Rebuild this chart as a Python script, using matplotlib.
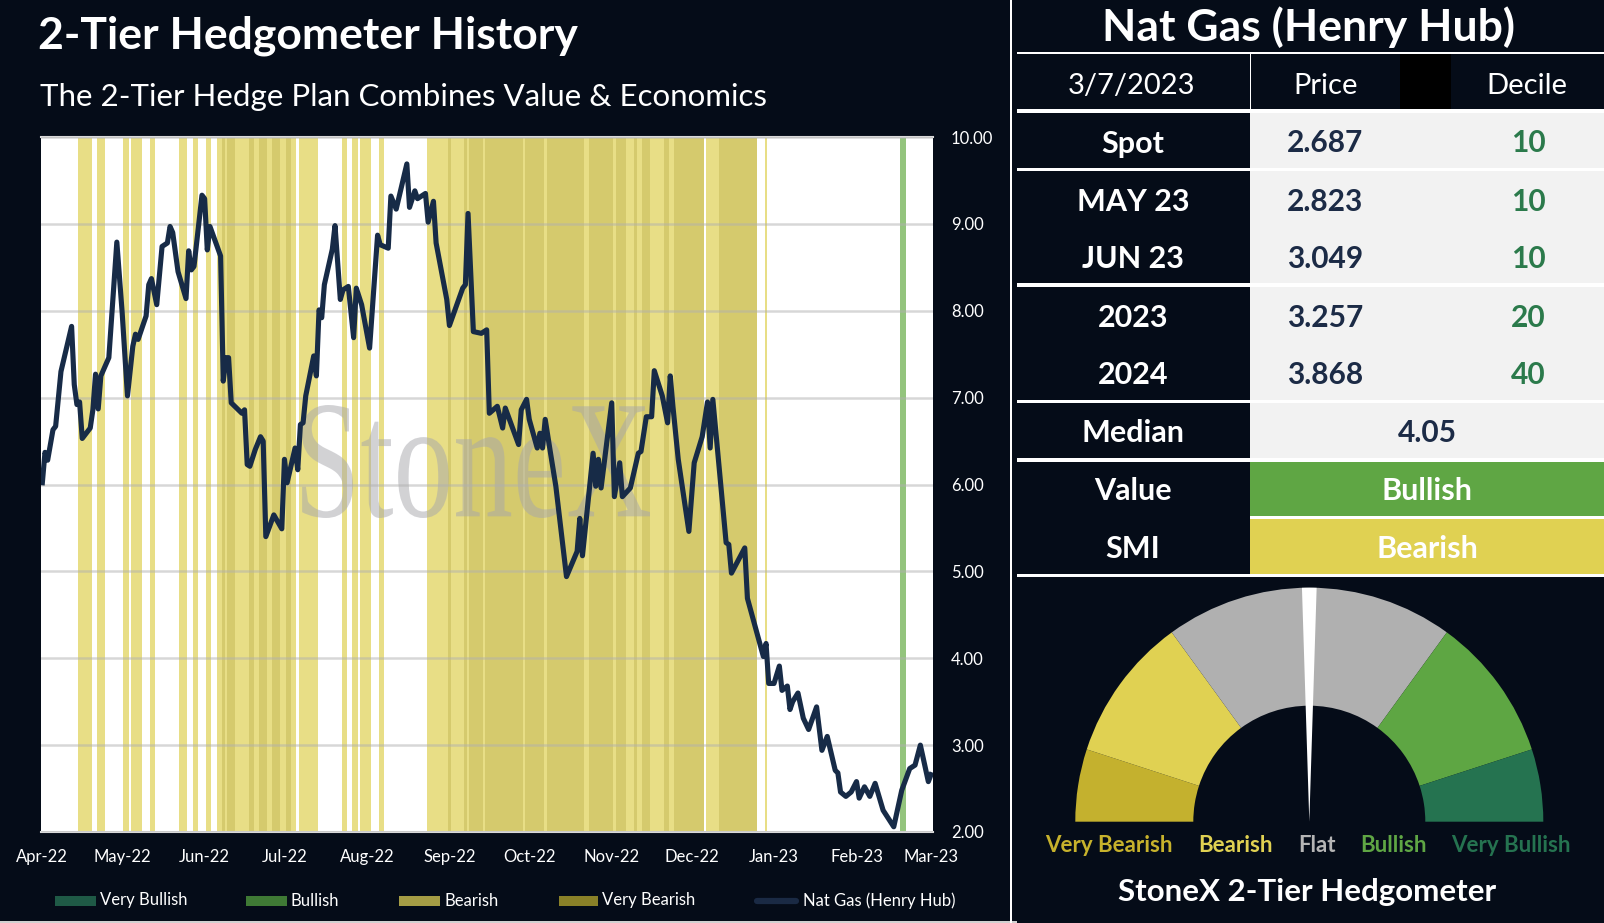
import pandas as pd
import matplotlib
matplotlib.use('Agg')
import matplotlib.pyplot as plt
import matplotlib.dates as mdates
from matplotlib.patches import Rectangle, Wedge, PathPatch
from matplotlib.textpath import TextPath
from matplotlib.font_manager import FontProperties
from matplotlib.transforms import Affine2D

plt.rcParams['font.family'] = ['Lato', 'DejaVu Sans']

W, H = 1604, 923
BG = '#050c18'
start = pd.Timestamp('2022-04-01')

# Henry Hub price, x = days after 1 Apr 2022
day = [0, 1, 2, 4, 5, 7, 11, 12, 13, 14, 15, 18, 19, 20, 21, 22, 25, 28, 30, 32,
       34, 35, 36, 39, 40, 41, 43, 45, 47, 48, 49, 51, 54, 55, 56, 57, 60, 61, 62, 63,
       67, 68, 69, 70, 71, 75, 76, 77, 78, 80, 82, 83, 84, 87, 90, 91, 92, 95, 96, 97,
       98, 99, 102, 103, 104, 105, 106, 109, 110, 112, 113, 115, 117, 118, 120, 123, 126, 127, 130, 131,
       133, 137, 138, 140, 141, 144, 145, 147, 148, 152, 153, 158, 159, 160, 162, 165, 167, 168, 171, 173,
       174, 179, 180, 182, 183, 186, 187, 188, 189, 191, 193, 197, 201, 202, 203, 207, 208, 209, 210, 214,
       215, 217, 218, 221, 224, 225, 227, 229, 230, 233, 235, 236, 237, 239, 243, 245, 248, 250, 251, 252,
       257, 258, 259, 264, 265, 271, 272, 273, 275, 277, 278, 280, 281, 282, 284, 286, 288, 291, 293, 295,
       298, 299, 300, 302, 304, 306, 307, 309, 311, 313, 316, 320, 323, 326, 328, 330, 333, 334]
price = [6.02, 6.37, 6.28, 6.63, 6.67, 7.30, 7.82, 7.15, 6.92, 6.95, 6.53, 6.65, 6.86, 7.27, 6.87, 7.25, 7.46, 8.79, 7.98, 7.02,
         7.59, 7.73, 7.67, 7.94, 8.30, 8.37, 8.07, 8.74, 8.78, 8.97, 8.90, 8.45, 8.14, 8.69, 8.47, 8.51, 9.33, 9.29, 8.70, 8.97,
         8.63, 7.19, 7.46, 7.46, 6.94, 6.82, 6.86, 6.23, 6.21, 6.40, 6.55, 6.50, 5.40, 5.65, 5.49, 6.29, 6.02, 6.42, 6.17, 6.69,
         6.71, 7.02, 7.48, 7.25, 8.01, 7.92, 8.30, 8.71, 8.98, 8.13, 8.24, 8.28, 7.69, 8.26, 8.07, 7.57, 8.87, 8.76, 8.72, 9.32,
         9.17, 9.69, 9.19, 9.38, 9.29, 9.35, 9.02, 9.26, 8.78, 8.13, 7.83, 8.26, 8.30, 9.12, 7.76, 7.74, 7.78, 6.82, 6.90, 6.65,
         6.88, 6.46, 6.86, 6.98, 6.75, 6.42, 6.59, 6.42, 6.75, 6.36, 5.98, 4.94, 5.23, 5.61, 5.18, 6.36, 5.98, 6.29, 5.96, 6.94,
         5.86, 6.25, 5.86, 5.96, 6.36, 6.38, 6.78, 6.78, 7.31, 7.02, 6.71, 7.25, 6.90, 6.29, 5.46, 6.25, 6.55, 6.95, 6.42, 6.98,
         5.33, 5.31, 4.98, 5.27, 4.69, 4.02, 4.17, 3.71, 3.71, 3.91, 3.63, 3.68, 3.41, 3.50, 3.60, 3.31, 3.18, 3.44, 2.94, 3.10,
         2.71, 2.68, 2.46, 2.41, 2.46, 2.58, 2.39, 2.52, 2.41, 2.56, 2.25, 2.06, 2.48, 2.73, 2.77, 3.00, 2.58, 2.66]

# hedgometer signal days (first / last day of each run)
bearish_from = [14, 21, 31, 34, 41, 52, 57, 62, 66, 97, 113, 117, 120, 127, 145, 250, 272]
bearish_to = [18, 23, 32, 37, 42, 54, 58, 63, 95, 103, 114, 118, 123, 128, 248, 268, 272]
very_bearish_from = [68, 70, 78, 82, 87, 92, 153, 159, 161, 167, 182, 190, 206, 216, 223, 226, 234, 238, 255]
very_bearish_to = [68, 72, 79, 84, 89, 93, 153, 159, 165, 180, 188, 203, 214, 219, 223, 228, 235, 248, 268]
bullish_from = [323]
bullish_to = [324]

month_ticks = pd.date_range('2022-04-01', '2023-03-01', freq='MS')
y_ticks = [2, 3, 4, 5, 6, 7, 8, 9, 10]

legend_labels = ['Very Bullish', 'Bullish', 'Bearish', 'Very Bearish', 'Nat Gas (Henry Hub)']
legend_colors = ['#1f5a46', '#3f7a35', '#a59d45', '#8a8128', '#1a2a44']

table_date = '3/7/2023'
contracts = ['Spot', 'MAY 23', 'JUN 23', '2023', '2024']
contract_price = ['2.687', '2.823', '3.049', '3.257', '3.868']
contract_decile = ['10', '10', '10', '20', '40']
median_price = '4.05'
value_signal = 'Bullish'
smi_signal = 'Bearish'

gauge_labels = ['Very Bearish', 'Bearish', 'Flat', 'Bullish', 'Very Bullish']
gauge_degrees = [18, 36, 72, 36, 18]
gauge_colors = ['#c4b12e', '#e0d152', '#b0b0b0', '#5ea643', '#257350']
needle_angle = 90

fig = plt.figure(figsize=(W / 100, H / 100), dpi=100, facecolor=BG)

# full-figure axes in pixel units (y down) for the table, gauge and texts
pan = fig.add_axes([0, 0, 1, 1])
pan.set_xlim(0, W)
pan.set_ylim(H, 0)
pan.axis('off')


def cell(x0, x1, y0, y1, color):
    pan.add_patch(Rectangle((x0, y0), x1 - x0, y1 - y0, fc=color, ec='none'))


# ---------------- left chart ----------------
ax = fig.add_axes([41 / W, 1 - 832 / H, (933 - 41) / W, (832 - 137) / H])
ax.set_facecolor('white')
half = pd.Timedelta(hours=12)


def spans(first, last, color, z):
    for a, b in zip(first, last):
        ax.axvspan(start + pd.Timedelta(days=a) - half, start + pd.Timedelta(days=b) + half,
                   color=color, lw=0, zorder=z)


spans(bearish_from, bearish_to, '#e8de86', 1)
spans(very_bearish_from, very_bearish_to, '#d5ca6d', 1.1)
spans(bullish_from, bullish_to, '#93c47d', 1)

# StoneX watermark
tp = TextPath((0, 0), 'StoneX', size=100, prop=FontProperties(family='Liberation Serif'))
bb = tp.get_extents()
tr = (Affine2D().translate(-bb.x0, -bb.y0)
      .scale((348 / 892) / bb.width, (113 / 695) / bb.height)
      .translate((302 - 41) / 892, (832 - 518) / 695) + ax.transAxes)
ax.add_patch(PathPatch(tp, transform=tr, fc='#a6a6ab', ec='none', alpha=0.5, zorder=2))

dates = start + pd.to_timedelta(day, unit='D')
ax.plot(dates, price, color='#172b47', lw=3.7, solid_joinstyle='round', zorder=4)

ax.set_xlim(start - half, start + pd.Timedelta(days=334.75))
ax.set_ylim(2, 10)
ax.set_axisbelow(False)
ax.yaxis.grid(True, color='#b0b0b0', alpha=0.5, lw=1.8)
for s in ['left', 'right']:
    ax.spines[s].set_visible(False)
for s in ['top', 'bottom']:
    ax.spines[s].set_color('#d9d9d9')
    ax.spines[s].set_linewidth(1.5)

ax.yaxis.tick_right()
ax.set_yticks(y_ticks)
ax.set_yticklabels([f'{v:.2f}' for v in y_ticks])
ax.set_xticks(month_ticks)
ax.xaxis.set_major_formatter(mdates.DateFormatter('%b-%y'))
ax.tick_params(axis='y', length=0, pad=13, labelcolor='white', labelsize=12)
ax.tick_params(axis='x', length=0, pad=12, labelcolor='white', labelsize=12)

pan.text(38, 48, '2-Tier Hedgometer History', color='white', fontsize=32, weight='bold', va='baseline')
pan.text(40, 106, 'The 2-Tier Hedge Plan Combines Value & Economics', color='white', fontsize=22.5, va='baseline')

# legend row under the chart
legend_x = [(55, 96), (246, 287), (399, 440), (559, 598), (754, 799)]
for (x0, x1), lab, col in zip(legend_x, legend_labels, legend_colors):
    if lab == 'Nat Gas (Henry Hub)':
        pan.plot([x0 + 3, x1 - 3], [900.5, 900.5], color=col, lw=4.5, solid_capstyle='round')
    else:
        cell(x0, x1, 895.5, 905.5, col)
    pan.text(x1 + 4, 900.5, lab, color='white', fontsize=12, va='center')

cell(0, W, 921, H, '#d0d0d0')

# ---------------- right panel ----------------
cell(1009.5, 1012, 0, H, 'white')
cell(1017, W, 0, H, 'white')
cell(1017, W, 0, 51.7, BG)
pan.text(1308.5, 27, 'Nat Gas (Henry Hub)', color='white', fontsize=32, weight='bold',
         ha='center', va='center')

cell(1017, 1249.5, 54, 109.3, BG)
cell(1251, W, 54, 109.3, BG)
cell(1400, 1451, 54, 109.3, '#000000')
hdr_y = 84
pan.text(1132, hdr_y, table_date, color='white', fontsize=21, ha='center', va='center_baseline')
pan.text(1325.5, hdr_y, 'Price', color='white', fontsize=21, ha='center', va='center_baseline')
pan.text(1527, hdr_y, 'Decile', color='white', fontsize=21, ha='center', va='center_baseline')

LIGHT = '#f2f2f2'
groups = [(112.7, 167.7), (170.7, 283.3), (286.7, 400), (403.3, 458.3)]
for y0, y1 in groups:
    cell(1017, 1250, y0, y1, BG)
    cell(1250, W, y0, y1, LIGHT)

row_y = [141, 199.5, 257, 315.5, 373]
for y, name, p, d in zip(row_y, contracts, contract_price, contract_decile):
    pan.text(1133, y, name, color='white', fontsize=22, weight='bold', ha='center', va='center_baseline')
    pan.text(1325.5, y, p, color='#1c2b46', fontsize=21.5, weight='bold', ha='center', va='center_baseline')
    pan.text(1528, y, d, color='#2b7a4b', fontsize=21.5, weight='bold', ha='center', va='center_baseline')

pan.text(1133, 431, 'Median', color='white', fontsize=22, weight='bold', ha='center', va='center_baseline')
pan.text(1427, 431, median_price, color='#1c2b46', fontsize=21.5, weight='bold', ha='center', va='center_baseline')

cell(1017, 1250, 461.7, 574, BG)
cell(1250, W, 461.7, 516, '#5fa644')
cell(1250, W, 518.7, 574, '#e0d152')
pan.text(1133, 489, 'Value', color='white', fontsize=22, weight='bold', ha='center', va='center_baseline')
pan.text(1133, 547, 'SMI', color='white', fontsize=22, weight='bold', ha='center', va='center_baseline')
pan.text(1427, 489, value_signal, color='white', fontsize=22, weight='bold', ha='center', va='center_baseline')
pan.text(1427, 547, smi_signal, color='white', fontsize=22, weight='bold', ha='center', va='center_baseline')

# gauge
cell(1017, W, 576.7, H, BG)
cx, cy, r_out, r_in = 1309.3, 821.7, 234, 116
a = 180
for deg, col in zip(gauge_degrees, gauge_colors):
    # y axis is flipped, so visual angles are negated
    pan.add_patch(Wedge((cx, cy), r_out, -a, -(a - deg), width=r_out - r_in, fc=col, ec='none'))
    a -= deg
pan.add_patch(Wedge((cx, cy), r_out, -needle_angle - 1.8, -needle_angle + 1.8, fc='white', ec='none'))

label_x = [1108.4, 1235.2, 1316.8, 1393.2, 1511]
label_cols = ['#c7b22c', '#e0d152', '#b5b5b5', '#5fa644', '#257350']
for x, lab, col in zip(label_x, gauge_labels, label_cols):
    pan.text(x, 844, lab, color=col, fontsize=16, weight='bold', ha='center', va='center_baseline')
pan.text(1307, 889, 'StoneX 2-Tier Hedgometer', color='white', fontsize=22.5, weight='bold',
         ha='center', va='center_baseline')

fig.savefig('out.png', dpi=100, facecolor=BG)
